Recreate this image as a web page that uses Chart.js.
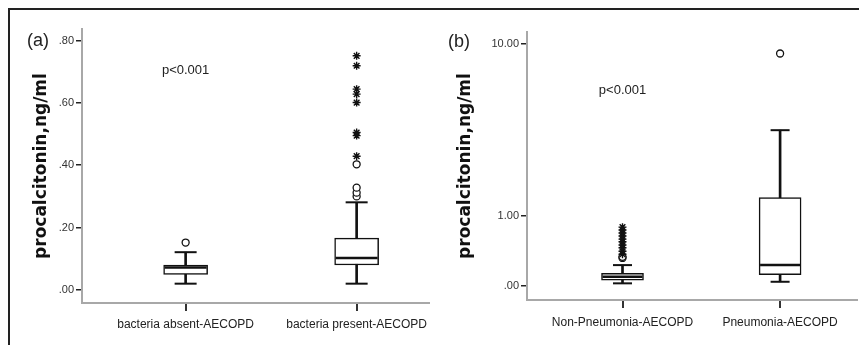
<!DOCTYPE html>
<html>
<head>
<meta charset="utf-8">
<script src="https://cdn.jsdelivr.net/npm/chart.js@4.4.1/dist/chart.umd.min.js"></script>
<style>
  html, body { margin: 0; padding: 0; background: #fff; }
  #page { position: relative; width: 859px; height: 345px; overflow: hidden; }
  #frame { position: absolute; left: 8px; top: 8px; width: 900px; height: 400px;
           border-top: 2px solid #222; border-left: 2px solid #222; }
  canvas { position: absolute; top: 10px; }
  #chartA { left: 10px; }
  #chartB { left: 430px; }
  .tag { position: absolute; font: 18px "Liberation Sans", Arial, sans-serif; line-height: 18px; color: #222; }
</style>
</head>
<body>
<div id="page">
  <div id="frame"></div>
  <canvas id="chartA" width="420" height="335"></canvas>
  <canvas id="chartB" width="429" height="335"></canvas>
  <div class="tag" style="left:27px;top:31px">(a)</div>
  <div class="tag" style="left:448px;top:32px">(b)</div>
</div>
<script>
// panel (a): bacteria absent / present
const categoriesA = ['bacteria absent-AECOPD', 'bacteria present-AECOPD'];
const minA = [0.02, 0.02];
const q1A = [0.05, 0.08];
const medianA = [0.072, 0.102];
const q3A = [0.08, 0.166];
const maxA = [0.121, 0.281];
const circlesA = [[0.152], [0.30, 0.312, 0.328, 0.403]];
const starsA = [[], [0.429, 0.495, 0.505, 0.601, 0.628, 0.644, 0.719, 0.751]];
const ticksA = [0, 0.2, 0.4, 0.6, 0.8];

// panel (b): pneumonia, safe-log axis
const categoriesB = ['Non-Pneumonia-AECOPD', 'Pneumonia-AECOPD'];
const minB = [0.027, 0.043];
const q1B = [0.061, 0.12];
const medianB = [0.096, 0.23];
const q3B = [0.134, 1.40];
const maxB = [0.23, 3.67];
const circlesB = [[0.32, 0.335], [8.97]];
const starsB = [[0.37, 0.41, 0.46, 0.50, 0.55, 0.59, 0.64, 0.69, 0.74, 0.79], []];
const ticksB = [0, 1, 10];

const pText = 'p<0.001';
const yTitle = 'procalcitonin,ng/ml';

const INK = '#111';
const AXIS = '#a8a8a8';
const FONT = '"Liberation Sans", Arial, sans-serif';

// SPSS style "safe log" axis: log10(x + 1)
class SafeLogScale extends Chart.LinearScale {
  static id = 'safelog';
  static defaults = Chart.LinearScale.defaults;
  configure() {
    super.configure();
    this._startValue = Math.log10(this.min + 1);
    this._endValue = Math.log10(this.max + 1);
    this._valueRange = this._endValue - this._startValue;
  }
  getPixelForValue(value) {
    if (value === null || value === undefined) return NaN;
    return this.getPixelForDecimal((Math.log10(value + 1) - this._startValue) / this._valueRange);
  }
  getValueForPixel(pixel) {
    return Math.pow(10, this._startValue + this.getDecimalForPixel(pixel) * this._valueRange) - 1;
  }
}
Chart.register(SafeLogScale);

// the p-value note, placed in data units
const pNote = {
  id: 'pNote',
  afterDraw(chart, args, o) {
    const { ctx, scales } = chart;
    ctx.save();
    ctx.font = '13px ' + FONT;
    ctx.fillStyle = '#222';
    ctx.textAlign = 'center';
    ctx.textBaseline = 'middle';
    ctx.fillText(o.text, scales.x.getPixelForValue(o.x), scales.y.getPixelForValue(o.y));
    ctx.restore();
  }
};

const fmt = v => v.toFixed(2).replace(/^0(?=\.)/, '');

function boxDatasets(mins, q1s, meds, q3s, maxs, circles, stars, boxW, capW) {
  const xs = mins.map((_, i) => i + 1);
  return [
    { type: 'bar', order: 5, grouped: false, barThickness: 2,
      data: xs.map((x, i) => ({ x, y: [mins[i], maxs[i]] })),
      backgroundColor: INK, borderWidth: 0 },
    { type: 'bar', order: 4, grouped: false, barThickness: boxW,
      data: xs.map((x, i) => ({ x, y: [q1s[i], q3s[i]] })),
      backgroundColor: '#fff', borderColor: INK, borderWidth: 1.5, borderSkipped: false },
    { type: 'line', order: 3, showLine: false,
      data: xs.map((x, i) => ({ x, y: meds[i] })),
      pointStyle: 'line', pointRadius: boxW / 2 - 1, pointBorderWidth: 2.5, pointBorderColor: INK },
    { type: 'line', order: 2, showLine: false,
      data: xs.map((x, i) => ({ x, y: mins[i] })).concat(xs.map((x, i) => ({ x, y: maxs[i] }))),
      pointStyle: 'line', pointRadius: capW / 2, pointBorderWidth: 2, pointBorderColor: INK },
    { type: 'line', order: 1, showLine: false,
      data: circles.flatMap((vals, i) => vals.map(v => ({ x: i + 1, y: v }))),
      pointStyle: 'circle', pointRadius: 3.5, pointBorderWidth: 1.3,
      pointBorderColor: INK, pointBackgroundColor: '#fff' },
    { type: 'line', order: 0, showLine: false,
      data: stars.flatMap((vals, i) => vals.map(v => ({ x: i + 1, y: v }))),
      pointStyle: 'star', pointRadius: 4, pointBorderWidth: 1.4, pointBorderColor: INK }
  ];
}

function makeChart(id, cfg) {
  return new Chart(document.getElementById(id), {
    type: 'bar',
    data: { datasets: boxDatasets(cfg.mins, cfg.q1s, cfg.meds, cfg.q3s, cfg.maxs,
                                  cfg.circles, cfg.stars, cfg.boxW, cfg.capW) },
    plugins: [pNote],
    options: {
      responsive: false,
      animation: false,
      events: [],
      layout: { padding: cfg.padding, autoPadding: false },
      plugins: {
        legend: { display: false },
        tooltip: { enabled: false },
        pNote: { text: pText, x: 1, y: cfg.pY }
      },
      scales: {
        x: {
          type: 'linear', min: cfg.xMin, max: cfg.xMax, bounds: 'data', offset: false,
          afterBuildTicks: s => { s.ticks = cfg.categories.map((c, i) => ({ value: i + 1 })); },
          afterFit: s => { s.height = cfg.xHeight; s.paddingLeft = 0; s.paddingRight = 0; },
          ticks: { callback: v => cfg.categories[v - 1], autoSkip: false, maxRotation: 0,
                   font: { family: FONT, size: 12 }, color: '#222', padding: cfg.labelPad },
          grid: { offset: false, drawOnChartArea: false, drawTicks: true, tickLength: 8,
                  color: '#333', lineWidth: 2 },
          border: { display: true, color: AXIS, width: 2 }
        },
        y: {
          type: cfg.yType, min: cfg.yMin, max: cfg.yMax, bounds: 'data', beginAtZero: false,
          afterBuildTicks: s => { s.ticks = cfg.yTicks.map(v => ({ value: v })); },
          afterFit: s => { s.width = cfg.yWidth; s.paddingTop = 0; s.paddingBottom = 0; },
          ticks: { callback: v => fmt(v), font: { family: FONT, size: 11 }, color: '#333', padding: 2 },
          grid: { drawOnChartArea: false, drawTicks: true, tickLength: 6, color: '#222', lineWidth: 1.5 },
          border: { display: true, color: AXIS, width: 2 },
          title: { display: true, text: yTitle, color: '#111',
                   font: { family: '"DejaVu Sans", sans-serif', size: 17, weight: 'bold' },
                   padding: { top: cfg.titlePad, bottom: 0 } }
        }
      }
    }
  });
}

makeChart('chartA', {
  categories: categoriesA, mins: minA, q1s: q1A, meds: medianA, q3s: q3A, maxs: maxA,
  circles: circlesA, stars: starsA, yTicks: ticksA,
  boxW: 44, capW: 22, pY: 0.705,
  xMin: 0.394, xMax: 2.429, yType: 'linear', yMin: -0.042, yMax: 0.837,
  padding: { top: 19, right: 0, left: 0, bottom: 0 }, xHeight: 42, yWidth: 72, titlePad: 21,
  labelPad: 6
});

makeChart('chartB', {
  categories: categoriesB, mins: minB, q1s: q1B, meds: medianB, q3s: q3B, maxs: maxB,
  circles: circlesB, stars: starsB, yTicks: ticksB,
  boxW: 42, capW: 19, pY: 5.93,
  xMin: 0.394, xMax: 2.488, yType: 'safelog', yMin: -0.129, yMax: 11.33,
  padding: { top: 22, right: 2, left: 0, bottom: 0 }, xHeight: 45, yWidth: 97, titlePad: 25,
  labelPad: 7
});
</script>
</body>
</html>
